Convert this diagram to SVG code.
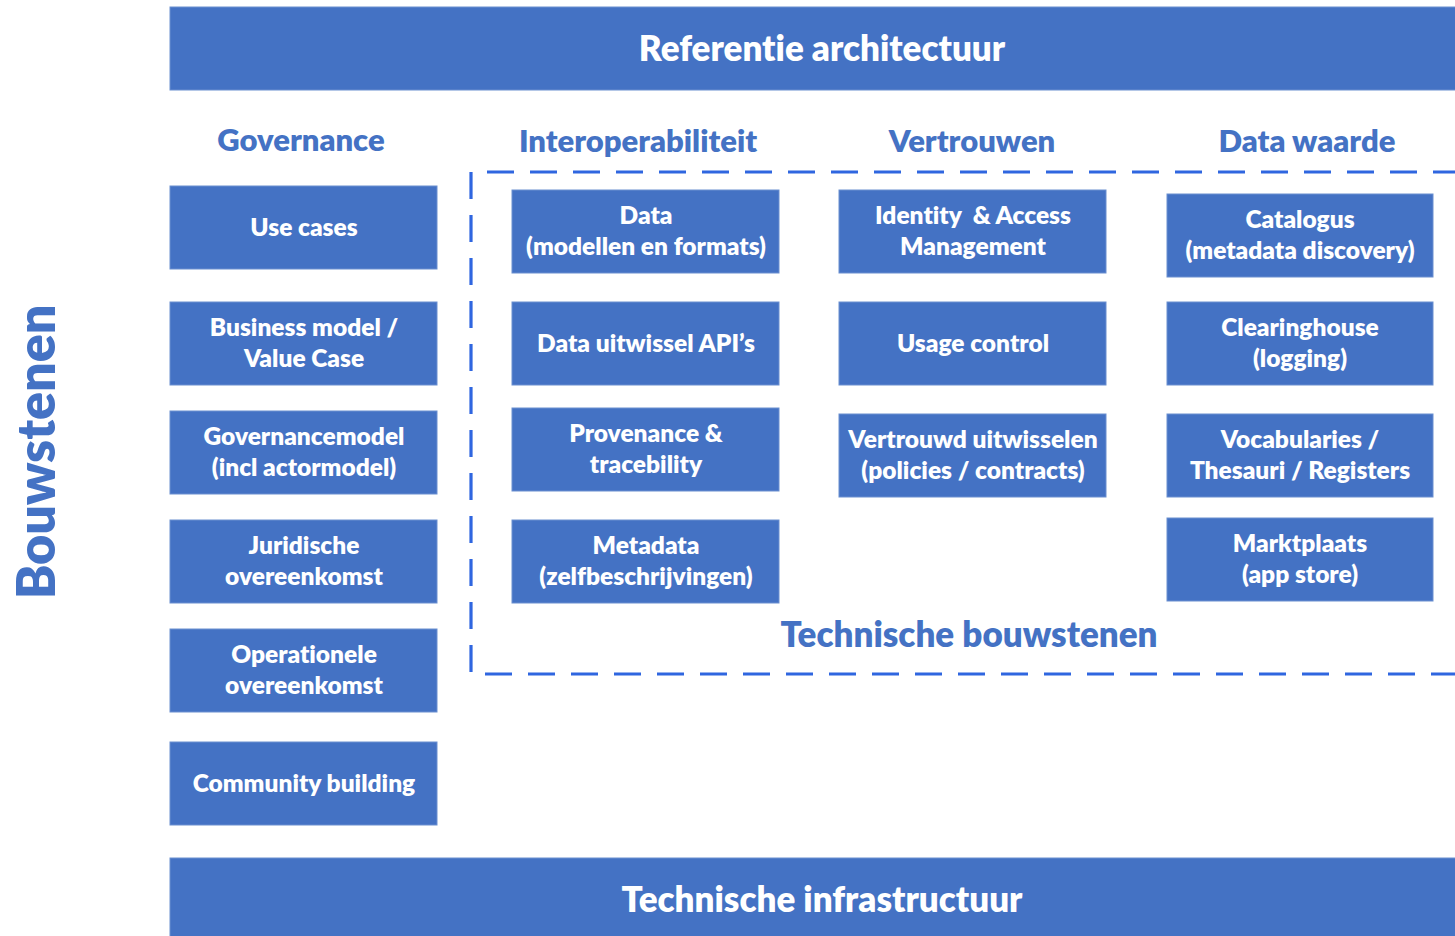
<svg xmlns="http://www.w3.org/2000/svg" width="1455" height="936" viewBox="0 0 1455 936">
<style>
.box{fill:#4472C4;stroke:#6a8fd0;stroke-width:1}
text{font-family:Lato,"Open Sans","Liberation Sans",sans-serif;font-weight:800;text-anchor:middle;font-variant-ligatures:none}
.bt{font-size:24.5px;fill:#ffffff}
.ban{font-size:35px;fill:#ffffff}
.hd{font-size:31px;fill:#4472C4}
</style>
<rect width="1455" height="936" fill="#ffffff"/>
<g id="top-banner"><rect class="box" x="170" y="7" width="1290" height="83"/><text class="ban" x="822" y="61">Referentie architectuur</text></g>
<g id="bottom-banner"><rect class="box" x="170" y="858" width="1290" height="85"/><text class="ban" x="822" y="912">Technische infrastructuur</text></g>
<g id="side-label"><text class="hd" style="font-size:52px" transform="translate(55,452) rotate(-90)">Bouwstenen</text></g>
<g id="headings">
<text class="hd" x="301" y="151">Governance</text>
<text class="hd" x="638" y="152">Interoperabiliteit</text>
<text class="hd" x="972" y="152">Vertrouwen</text>
<text class="hd" x="1307" y="152">Data waarde</text>
</g>
<g id="tech-frame"><path d="M1460 172 H471 V674 H1460" fill="none" stroke="#2F66E0" stroke-width="3.2" stroke-dasharray="27 16"/><text class="hd" style="font-size:35px" x="969" y="647">Technische bouwstenen</text></g>
<g id="use-cases"><rect class="box" x="170" y="186" width="267" height="83"/><text class="bt" x="304" y="236">Use cases</text></g>
<g id="business-model"><rect class="box" x="170" y="302" width="267" height="83"/><text class="bt" x="304" y="336">Business model /</text><text class="bt" x="304" y="367">Value Case</text></g>
<g id="governancemodel"><rect class="box" x="170" y="411" width="267" height="83"/><text class="bt" x="304" y="445">Governancemodel</text><text class="bt" x="304" y="476">(incl actormodel)</text></g>
<g id="juridische"><rect class="box" x="170" y="520" width="267" height="83"/><text class="bt" x="304" y="554">Juridische</text><text class="bt" x="304" y="585">overeenkomst</text></g>
<g id="operationele"><rect class="box" x="170" y="629" width="267" height="83"/><text class="bt" x="304" y="663">Operationele</text><text class="bt" x="304" y="694">overeenkomst</text></g>
<g id="community"><rect class="box" x="170" y="742" width="267" height="83"/><text class="bt" x="304" y="792">Community building</text></g>
<g id="data"><rect class="box" x="512" y="190" width="267" height="83"/><text class="bt" x="646" y="224">Data</text><text class="bt" x="646" y="255">(modellen en formats)</text></g>
<g id="api"><rect class="box" x="512" y="302" width="267" height="83"/><text class="bt" x="646" y="352">Data uitwissel API’s</text></g>
<g id="provenance"><rect class="box" x="512" y="408" width="267" height="83"/><text class="bt" x="646" y="442">Provenance &amp;</text><text class="bt" x="646" y="473">tracebility</text></g>
<g id="metadata"><rect class="box" x="512" y="520" width="267" height="83"/><text class="bt" x="646" y="554">Metadata</text><text class="bt" x="646" y="585">(zelfbeschrijvingen)</text></g>
<g id="iam"><rect class="box" x="839" y="190" width="267" height="83"/><text class="bt" x="973" y="224" xml:space="preserve">Identity  &amp; Access</text><text class="bt" x="973" y="255">Management</text></g>
<g id="usage"><rect class="box" x="839" y="302" width="267" height="83"/><text class="bt" x="973" y="352">Usage control</text></g>
<g id="vertrouwd"><rect class="box" x="839" y="414" width="267" height="83"/><text class="bt" x="973" y="448">Vertrouwd uitwisselen</text><text class="bt" x="973" y="479">(policies / contracts)</text></g>
<g id="catalogus"><rect class="box" x="1167" y="194" width="266" height="83"/><text class="bt" x="1300" y="228">Catalogus</text><text class="bt" x="1300" y="259">(metadata discovery)</text></g>
<g id="clearinghouse"><rect class="box" x="1167" y="302" width="266" height="83"/><text class="bt" x="1300" y="336">Clearinghouse</text><text class="bt" x="1300" y="367">(logging)</text></g>
<g id="vocabularies"><rect class="box" x="1167" y="414" width="266" height="83"/><text class="bt" x="1300" y="448">Vocabularies /</text><text class="bt" x="1300" y="479">Thesauri / Registers</text></g>
<g id="marktplaats"><rect class="box" x="1167" y="518" width="266" height="83"/><text class="bt" x="1300" y="552">Marktplaats</text><text class="bt" x="1300" y="583">(app store)</text></g>
</svg>
